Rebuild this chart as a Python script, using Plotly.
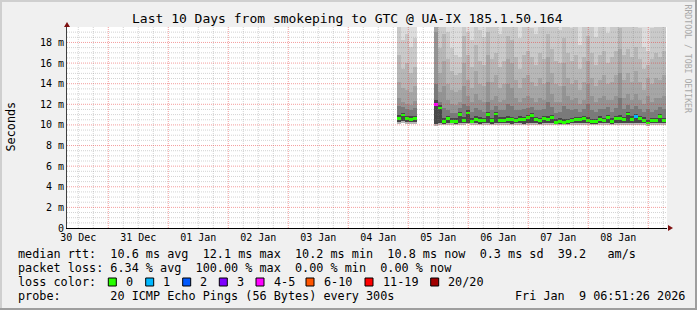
import plotly.graph_objects as go
import pandas as pd
import numpy as np

# ---------------- data ----------------
title_text = "Last 10 Days from smokeping to GTC @ UA-IX 185.1.50.164"
x_range = ["2025-12-30 07:29", "2026-01-09 07:29"]
y_max = 19.5
y_tick_vals = [0, 2, 4, 6, 8, 10, 12, 14, 16, 18]
y_tick_text = ["0", "2 m", "4 m", "6 m", "8 m", "10 m", "12 m", "14 m", "16 m", "18 m"]

bucket_minutes = 96
chunk_first_centers = ["2026-01-04 20:17", "2026-01-05 11:05"]
chunk_sizes = [5, 58]

# median rtt per bucket (ms)
median = [10.6, 10.95, 10.6, 10.55, 10.6,
          12.0, 11.65, 10.3, 10.6, 10.35, 10.35, 11.0, 10.4, 11.15, 10.35,
          10.55, 10.45, 10.4, 11.0, 10.4, 11.05, 10.45, 10.45, 10.55, 10.5,
          10.4, 10.55, 10.5, 10.7, 10.9, 10.5, 10.4, 10.6, 10.5, 10.7,
          10.25, 10.35, 10.25, 10.3, 10.4, 10.5, 10.5, 10.6, 10.45, 10.3,
          10.3, 10.55, 10.4, 10.75, 10.35, 10.6, 10.6, 10.5, 11.05, 10.55,
          10.85, 10.6, 10.45, 10.2, 10.4, 10.4, 10.85, 10.4]
# lost pings (of 20) per bucket
loss = [0, 0, 0, 0, 0,
        4, 0, 0, 0, 0, 0, 0, 0, 0, 0,
        0, 0, 0, 0, 0, 0, 0, 0, 0, 0,
        0, 0, 0, 0, 0, 0, 0, 0, 0, 0,
        0, 0, 0, 0, 0, 0, 0, 0, 0, 0,
        0, 0, 0, 0, 0, 0, 0, 0, 0, 0,
        1, 0, 0, 0, 0, 0, 0, 0]
# smoke: lowest pings
smoke_min = [10.1, 10.15, 10.1, 10.1, 10.1,
             9.9, 10.0, 9.95, 10.0, 10.0, 9.95, 10.0, 10.0, 10.05, 10.0,
             10.0, 9.95, 10.0, 10.0, 9.95, 10.0, 10.0, 10.0, 10.0, 9.95,
             10.0, 10.0, 9.95, 10.0, 10.0, 10.0, 9.95, 10.0, 10.0, 10.0,
             9.95, 10.0, 9.95, 9.95, 10.0, 10.0, 10.0, 10.0, 10.0, 9.95,
             9.95, 10.0, 10.0, 10.0, 9.95, 10.0, 10.0, 10.0, 10.0, 10.0,
             10.0, 10.0, 10.0, 9.9, 10.0, 10.0, 10.0, 10.0]
smoke_low = [10.3, 10.35, 10.3, 10.3, 10.3,
             10.1, 10.15, 10.1, 10.15, 10.15, 10.1, 10.2, 10.15, 10.2, 10.15,
             10.15, 10.1, 10.15, 10.2, 10.1, 10.2, 10.15, 10.15, 10.15, 10.1,
             10.15, 10.15, 10.1, 10.2, 10.2, 10.15, 10.1, 10.15, 10.15, 10.2,
             10.05, 10.1, 10.05, 10.1, 10.15, 10.15, 10.15, 10.2, 10.15, 10.1,
             10.1, 10.15, 10.15, 10.2, 10.1, 10.15, 10.15, 10.15, 10.2, 10.15,
             10.2, 10.15, 10.15, 10.05, 10.15, 10.15, 10.2, 10.15]
# smoke: upper ping levels (outermost -> innermost)
smoke_u1 = [21, 21, 21, 21, 21,
            22, 21, 22, 21, 21, 21, 21, 22, 21, 21,
            22, 21, 21, 22, 21, 21, 21, 21, 22, 22,
            21, 21, 21, 21, 21, 21, 21, 21, 22, 21,
            21, 21, 22, 21, 21, 21, 21, 21, 22, 21,
            21, 21, 21, 21, 21, 21, 22, 21, 21, 21,
            21, 21, 21, 21, 21, 21, 21, 21]
smoke_u2 = [19.5, 18.2, 18.8, 17.6, 18.4,
            21, 20, 21, 19, 17.5, 16.8, 16.6, 20, 19, 18.2,
            20, 19.2, 18.5, 21, 19.6, 20, 18.8, 19.5, 21, 21,
            19.8, 18.4, 19.6, 20, 19.4, 18.8, 20, 19.5, 21, 20,
            19.6, 19.2, 21, 20, 19.4, 19.8, 17.8, 19.6, 21, 20,
            18.5, 19.8, 20, 18.9, 19.6, 20, 21, 19.7, 20, 19.5,
            20, 19.4, 17.6, 17.2, 19.4, 20, 19.6, 20]
smoke_u3 = [16.8, 15.4, 16.0, 15.0, 15.6,
            20, 17.5, 18.8, 16.4, 15.2, 14.8, 15.0, 18.6, 16.8, 15.6,
            17.8, 16.2, 15.8, 19.0, 16.4, 17.0, 15.6, 16.2, 18.6, 18.2,
            16.6, 15.4, 16.8, 17.2, 16.6, 15.8, 17.0, 16.4, 18.8, 17.4,
            16.2, 16.0, 18.4, 17.0, 16.2, 16.8, 15.4, 16.6, 18.6, 17.0,
            15.8, 16.8, 17.2, 16.0, 16.6, 17.2, 19.4, 16.8, 17.4, 16.6,
            17.6, 16.4, 15.4, 15.8, 16.4, 17.0, 16.6, 17.2]
smoke_u4 = [14.2, 13.6, 13.4, 13.2, 13.8,
            19.5, 15.0, 16.2, 14.0, 13.4, 13.2, 13.4, 16.0, 14.4, 13.6,
            15.2, 14.0, 13.8, 16.8, 14.2, 14.8, 13.6, 14.0, 16.4, 16.0,
            14.4, 13.6, 14.6, 14.8, 14.2, 13.8, 14.6, 14.0, 16.6, 15.0,
            14.0, 13.8, 16.0, 14.6, 14.0, 14.4, 13.4, 14.2, 16.2, 14.6,
            13.8, 14.4, 14.8, 14.0, 14.2, 14.8, 17.4, 14.4, 15.0, 14.2,
            15.2, 14.2, 13.4, 14.6, 14.0, 14.6, 14.4, 14.8]
smoke_u5 = [12.6, 12.2, 12.0, 11.9, 12.3,
            19.0, 13.2, 13.8, 12.4, 12.0, 11.9, 12.2, 13.8, 12.8, 12.2,
            13.0, 12.4, 12.2, 14.2, 12.4, 12.8, 12.2, 12.4, 14.0, 13.6,
            12.6, 12.2, 12.6, 12.8, 12.6, 12.2, 12.6, 12.4, 14.2, 13.0,
            12.2, 12.2, 13.8, 12.8, 12.4, 12.6, 12.0, 12.4, 14.0, 12.8,
            12.2, 12.6, 12.8, 12.4, 12.4, 12.8, 15.0, 12.6, 13.0, 12.4,
            13.0, 12.4, 12.0, 12.8, 12.2, 12.6, 12.6, 12.8]
smoke_u6 = [11.8, 11.7, 11.5, 11.4, 11.6,
            14.0, 12.2, 11.6, 11.4, 11.2, 11.2, 11.6, 12.0, 11.8, 11.3,
            11.6, 11.4, 11.3, 12.2, 11.4, 11.8, 11.4, 11.4, 12.0, 11.8,
            11.4, 11.4, 11.5, 11.6, 11.7, 11.4, 11.4, 11.5, 12.2, 11.7,
            11.2, 11.3, 11.8, 11.5, 11.4, 11.5, 11.3, 11.5, 12.0, 11.4,
            11.3, 11.5, 11.5, 11.7, 11.3, 11.6, 12.6, 11.5, 11.9, 11.5,
            11.8, 11.5, 11.3, 11.5, 11.3, 11.4, 11.7, 11.5]
smoke_u7 = [11.0, 11.2, 10.9, 10.85, 10.9,
            12.4, 11.9, 10.7, 10.9, 10.7, 10.7, 11.3, 10.8, 11.4, 10.7,
            10.9, 10.8, 10.7, 11.3, 10.7, 11.3, 10.8, 10.8, 10.9, 10.8,
            10.7, 10.9, 10.8, 11.0, 11.2, 10.8, 10.7, 10.9, 10.9, 11.0,
            10.6, 10.7, 10.6, 10.6, 10.7, 10.8, 10.8, 10.9, 10.8, 10.6,
            10.6, 10.9, 10.7, 11.0, 10.7, 10.9, 11.0, 10.8, 11.3, 10.9,
            11.1, 10.9, 10.8, 10.5, 10.7, 10.7, 11.1, 10.7]

loss_labels = ["0", "1", "2", "3", "4-5", "6-10", "11-19", "20/20"]
loss_colors = ["#26ff00", "#00b8ff", "#0059ff", "#7e00ff", "#ff00ff", "#ff5500", "#ff0000", "#a10000"]

legend_line1 = "median rtt:  10.6 ms avg  12.1 ms max  10.2 ms min  10.8 ms now  0.3 ms sd  39.2   am/s"
legend_line2 = "packet loss: 6.34 % avg  100.00 % max  0.00 % min  0.00 % now"
legend_line3 = "loss color:"
legend_line4 = "probe:       20 ICMP Echo Pings (56 Bytes) every 300s"
date_text = "Fri Jan  9 06:51:26 2026"
side_text = "RRDTOOL / TOBI OETIKER"

# ---------------- layout helpers ----------------
W, H = 697, 310
PL, PR, PT, PB = 67, 667, 27, 228
FONT = "DejaVu Sans Mono"


def px(x):
    return (x - PL) / (PR - PL)


def py(y):
    return (PB - y) / (PB - PT)


def nb(s):
    return s.replace(" ", "\u00a0")


def loss_color(n):
    if n == 0:
        return loss_colors[0]
    if n == 1:
        return loss_colors[1]
    if n == 2:
        return loss_colors[2]
    if n == 3:
        return loss_colors[3]
    if n <= 5:
        return loss_colors[4]
    if n <= 10:
        return loss_colors[5]
    if n <= 19:
        return loss_colors[6]
    return loss_colors[7]


times = []
for start, n in zip(chunk_first_centers, chunk_sizes):
    times += list(pd.date_range(start, periods=n, freq=f"{bucket_minutes}min"))
bw = bucket_minutes * 60 * 1000

fig = go.Figure()

bands = [
    (smoke_min, smoke_u1, "#dddddd"),
    (smoke_min, smoke_u2, "#cacaca"),
    (smoke_min, smoke_u3, "#b7b7b7"),
    (smoke_low, smoke_u4, "#a6a6a6"),
    (smoke_low, smoke_u5, "#949494"),
    (smoke_low, smoke_u6, "#7a7a7a"),
    (smoke_low, smoke_u7, "#474747"),
]
for lo, hi, col in bands:
    fig.add_trace(go.Bar(
        x=times, base=lo, y=[h - l for h, l in zip(hi, lo)], width=bw,
        marker=dict(color=col, line=dict(width=0)), hoverinfo="skip", showlegend=False))

fig.add_trace(go.Bar(
    x=times, base=[m - 0.13 for m in median], y=[0.26] * len(median), width=bw,
    marker=dict(color=[loss_color(n) for n in loss], line=dict(width=0)),
    hoverinfo="skip", showlegend=False))

shapes = []
# grid lines (drawn above smoke, as rrdtool does)
t0 = pd.Timestamp(x_range[0])
t1 = pd.Timestamp(x_range[1])
for t in pd.date_range(t0.ceil("6h"), t1, freq="6h"):
    major = t.hour == 0
    shapes.append(dict(type="line", xref="x", yref="y", x0=t, x1=t, y0=0, y1=y_max,
                       line=dict(color="rgba(230,40,40,0.45)" if major else "rgba(120,120,120,0.33)",
                                 width=1, dash="1px,1px"), layer="above"))
for v in np.arange(0.5, y_max, 0.5):
    major = abs(v % 2) < 1e-9
    shapes.append(dict(type="line", xref="x", yref="y", x0=t0, x1=t1, y0=v, y1=v,
                       line=dict(color="rgba(230,40,40,0.45)" if major else "rgba(120,120,120,0.33)",
                                 width=1, dash="1px,1px"), layer="above"))

# arrows
shapes.append(dict(type="path", xref="paper", yref="paper", xsizemode="pixel", ysizemode="pixel",
                   xanchor=px(668), yanchor=0, path="M 0,-3 L 5,0 L 0,3 Z",
                   fillcolor="#7f1010", line=dict(width=0), layer="above"))
shapes.append(dict(type="path", xref="paper", yref="paper", xsizemode="pixel", ysizemode="pixel",
                   xanchor=0, yanchor=1, path="M -3,0 L 3,0 L 0,5 Z",
                   fillcolor="#7f1010", line=dict(width=0), layer="above"))

# frame (rrdtool shade)
def rect(x0, y0, x1, y1, col, lw=0, lc=None):
    d = dict(type="rect", xref="paper", yref="paper", x0=px(x0), x1=px(x1), y0=py(y0), y1=py(y1),
             fillcolor=col, layer="above")
    d["line"] = dict(width=lw, color=lc) if lw else dict(width=0)
    return d

shapes.append(rect(0, 0, W, 2, "#cfcfcf"))
shapes.append(rect(0, 0, 2, H, "#cfcfcf"))
shapes.append(rect(W - 2, 0, W, H, "#9e9e9e"))
shapes.append(rect(0, H - 2, W, H, "#9e9e9e"))

annotations = []

def ann(x, y, text, size, xanchor="left", color="#000000", angle=0):
    annotations.append(dict(x=px(x), y=py(y), xref="paper", yref="paper", text=nb(text),
                            showarrow=False, xanchor=xanchor, yanchor="middle", textangle=angle,
                            font=dict(family=FONT, size=size, color=color)))

ann(347.5, 19, title_text, 13, xanchor="center")
ann(10.5, 127, "Seconds", 11.8, xanchor="center", angle=-90)
ann(688, 58.5, side_text, 8.2, xanchor="center", color="#a8a8a8", angle=90)
ann(16, 254, legend_line1, 11.8)
ann(16, 268, legend_line2, 11.8)
ann(16, 282, legend_line3, 11.8)
ann(16, 296, legend_line4, 11.8)
ann(513, 296, date_text, 11.8)

box_x = [108.3, 145.7, 182.7, 219.3, 256.0, 306.0, 365.0, 430.7]
for bx, lab, col in zip(box_x, loss_labels, loss_colors):
    shapes.append(rect(bx, 278, bx + 8, 286, col, lw=1, lc="#000000"))
    ann(bx + 15.7, 282, lab, 11.8)

fig.update_layout(
    width=W, height=H,
    margin=dict(l=PL, r=W - PR, t=PT, b=H - PB, autoexpand=False),
    paper_bgcolor="#f0f0f0", plot_bgcolor="#ffffff",
    barmode="overlay", bargap=0,
    showlegend=False,
    shapes=shapes, annotations=annotations,
    xaxis=dict(type="date", range=x_range, showgrid=False, zeroline=False,
               dtick=86400000, tick0="2025-12-31", ticklabelmode="period", tickformat="%d %b",
               ticks="", showline=True, linecolor="#000000", linewidth=1,
               tickfont=dict(family=FONT, size=10, color="#000000"), layer="above traces"),
    yaxis=dict(range=[0, y_max], showgrid=False, zeroline=False,
               tickmode="array", tickvals=y_tick_vals, ticktext=y_tick_text,
               ticks="", showline=True, linecolor="#404040", linewidth=1,
               tickfont=dict(family=FONT, size=10, color="#000000"), layer="above traces"),
)

fig.write_html("out.html")
